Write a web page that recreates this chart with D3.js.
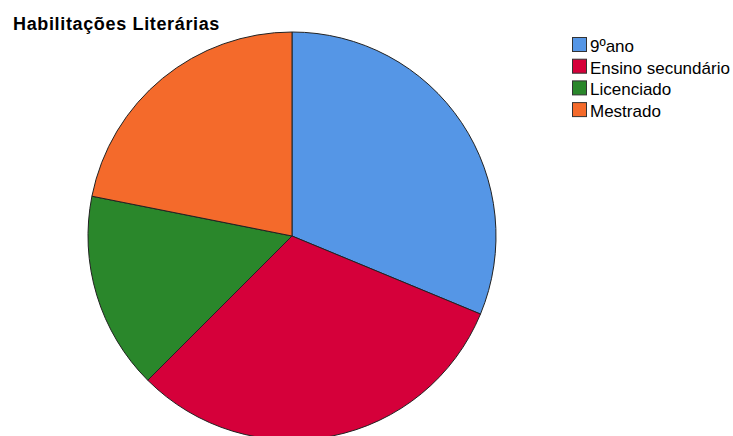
<!DOCTYPE html>
<html><head><meta charset="utf-8">
<script src="https://cdn.jsdelivr.net/npm/d3@7"></script>
<style>body{margin:0;background:#fff}svg{display:block}</style>
</head><body>
<svg id="c" width="733" height="436"></svg>
<script>
const categories = ["9ºano", "Ensino secundário", "Licenciado", "Mestrado"];
const values = [10, 10, 5, 7];
const colors = ["#5596e6", "#d5003a", "#2a872b", "#f46a2b"];

const svg = d3.select("#c");
const cx = 292, cy = 236, r = 204;
const pie = d3.pie().sort(null).value(d => d.v);
const arcs = pie(categories.map((c, i) => ({c, v: values[i], col: colors[i]})));
const arc = d3.arc().innerRadius(0).outerRadius(r);
svg.append("g").attr("transform", `translate(${cx},${cy})`)
  .selectAll("path").data(arcs).enter().append("path")
  .attr("d", arc).attr("fill", d => d.data.col)
  .attr("stroke", "#222").attr("stroke-width", 1).attr("stroke-linejoin", "round");

svg.append("text").attr("x", 13).attr("y", 29.5)
  .attr("font-family", "Liberation Sans, Arial, sans-serif").attr("font-weight", "bold")
  .attr("font-size", 18).attr("letter-spacing", 0.65).attr("fill", "#000").text("Habilitações Literárias");

const leg = svg.append("g").attr("font-family", "Liberation Sans, Arial, sans-serif").attr("font-size", 17);
const ly = d3.scaleLinear().domain([0, 1]).range([37, 58.7]);
categories.forEach((c, i) => {
  leg.append("rect").attr("x", 572.5).attr("y", ly(i) + 0.5).attr("width", 14).attr("height", 14)
    .attr("fill", colors[i]).attr("stroke", "#333").attr("stroke-width", 1);
  leg.append("text").attr("x", 590).attr("y", ly(i) + 15).attr("fill", "#000").text(c);
});
</script>
</body></html>
